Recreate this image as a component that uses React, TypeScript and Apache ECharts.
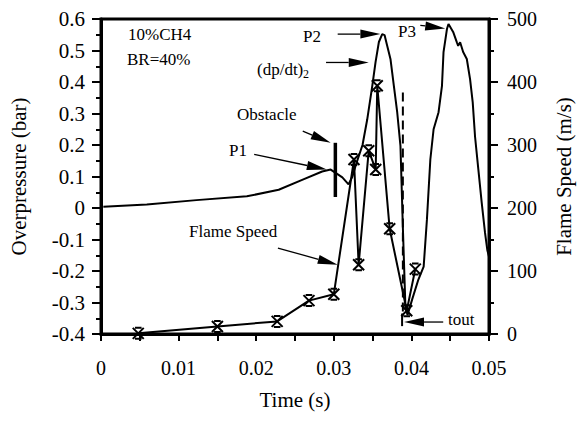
import React, { useEffect, useRef } from 'react';
import * as echarts from 'echarts';

// Overpressure trace (time s, overpressure bar)
const pressureTime = [
  0.0003, 0.0059, 0.0123, 0.0188, 0.0229, 0.026, 0.0285, 0.0296, 0.0311, 0.0319,
  0.0324, 0.03295, 0.0337, 0.0343, 0.03496, 0.03538, 0.03581, 0.03624, 0.03654, 0.03688,
  0.03731, 0.03774, 0.03817, 0.03859, 0.0389, 0.03923, 0.0395, 0.0401, 0.0409, 0.04158,
  0.042, 0.04244, 0.04286, 0.0435, 0.04394, 0.04414, 0.04458, 0.04478, 0.04538, 0.04586,
  0.04603, 0.04628, 0.04667, 0.04714, 0.04756, 0.0479, 0.0482, 0.04863, 0.04906, 0.04949,
  0.04978, 0.05,
];
const pressureValue = [
  0.004, 0.011, 0.025, 0.037, 0.058, 0.09, 0.116, 0.122, 0.097, 0.075,
  0.1, 0.145, 0.2, 0.28, 0.388, 0.463, 0.527, 0.552, 0.549, 0.515,
  0.472, 0.388, 0.304, 0.197, -0.062, -0.314, -0.34, -0.29, -0.227, -0.186,
  -0.037, 0.154, 0.25, 0.304, 0.388, 0.495, 0.568, 0.584, 0.559, 0.526,
  0.515, 0.526, 0.495, 0.473, 0.409, 0.336, 0.227, 0.122, 0.017, -0.079,
  -0.133, -0.155,
];

// Flame speed (time s, m/s)
const speedTime = [0.0048, 0.015, 0.0227, 0.0268, 0.03, 0.0326, 0.0332, 0.0345, 0.0354, 0.0356, 0.0372, 0.0394, 0.0405];
const speedValue = [1, 12, 20, 53, 63, 277, 110, 291, 261, 394, 167, 37, 103];

// Axis ranges / ticks
const timeRange = [0, 0.05];
const pressureRange = [-0.4, 0.6];
const speedRange = [0, 500];

// Annotation anchors in data coordinates [time, overpressure]
const obstacleTime = 0.0302;
const obstacleRange = [0.207, 0.035];
const toutTime = 0.0389;
const dashedRange = [0.367, -0.33];
const toutTickRange = [-0.335, -0.375];
const arrows: { from: number[]; to: number[] }[] = [
  { from: [0.01974, 0.17], to: [0.0291, 0.122] }, // P1
  { from: [0.026, 0.244], to: [0.0296, 0.207] }, // Obstacle
  { from: [0.0305, 0.552], to: [0.036, 0.552] }, // P2
  { from: [0.029, 0.462], to: [0.0345, 0.462] }, // (dp/dt)2
  { from: [0.0228, -0.127], to: [0.0305, -0.18] }, // Flame Speed
  { from: [0.04115, 0.58], to: [0.04436, 0.57] }, // P3
  { from: [0.0441, -0.362], to: [0.03905, -0.362] }, // tout
];

const FONT = '"Liberation Serif", "Times New Roman", serif';
const markerPath = 'path://M2,0L8,0M2,10L8,10M0,0L10,10M10,0L0,10';

export default function App() {
  const ref = useRef<HTMLDivElement>(null);
  useEffect(() => {
    if (!ref.current) return;
    const chart = echarts.init(ref.current, undefined, { renderer: 'svg' });
    const pressureData = pressureTime.map((t, i) => [t, pressureValue[i]]);
    const speedData = speedTime.map((t, i) => [t, speedValue[i]]);
    const axisLine = { show: true, onZero: false, lineStyle: { color: '#000', width: 3 } };
    const labelStyle = { color: '#000', fontFamily: FONT, fontSize: 20 };
    chart.setOption({
      animation: false,
      backgroundColor: '#fff',
      grid: { left: 99, right: 93, top: 19, bottom: 88, show: true, borderColor: '#000', borderWidth: 3 },
      xAxis: {
        type: 'value',
        min: timeRange[0],
        max: timeRange[1],
        interval: 0.01,
        name: 'Time (s)',
        nameLocation: 'middle',
        nameGap: 55,
        nameTextStyle: { color: '#000', fontFamily: FONT, fontSize: 21 },
        axisLine,
        axisTick: { show: true, inside: false, length: 7, lineStyle: { color: '#000', width: 2 } },
        minorTick: { show: true, splitNumber: 2, length: 7, lineStyle: { color: '#000', width: 2 } },
        axisLabel: { ...labelStyle, margin: 24, formatter: (v: number) => (v === 0 ? '0' : String(+v.toFixed(2))) },
        splitLine: { show: false },
      },
      yAxis: [
        {
          type: 'value',
          min: pressureRange[0],
          max: pressureRange[1],
          interval: 0.1,
          name: 'Overpressure (bar)',
          nameLocation: 'middle',
          nameGap: 72,
          nameRotate: 90,
          nameTextStyle: { color: '#000', fontFamily: FONT, fontSize: 21 },
          axisLine,
          axisTick: { show: true, length: 9, lineStyle: { color: '#000', width: 2 } },
          minorTick: { show: true, splitNumber: 2, length: 5, lineStyle: { color: '#000', width: 2 } },
          axisLabel: { ...labelStyle, fontSize: 21, margin: 16, formatter: (v: number) => (Math.abs(v) < 1e-9 ? '0' : String(+v.toFixed(1))) },
          splitLine: { show: false },
        },
        {
          type: 'value',
          position: 'right',
          min: speedRange[0],
          max: speedRange[1],
          interval: 100,
          name: 'Flame Speed (m/s)',
          nameLocation: 'middle',
          nameGap: 64,
          nameRotate: 90,
          nameTextStyle: { color: '#000', fontFamily: FONT, fontSize: 21 },
          axisLine,
          axisTick: { show: true, length: 9, lineStyle: { color: '#000', width: 2 } },
          minorTick: { show: true, splitNumber: 2, length: 5, lineStyle: { color: '#000', width: 2 } },
          axisLabel: { ...labelStyle, margin: 18 },
          splitLine: { show: false },
        },
      ],
      series: [
        {
          type: 'line',
          name: 'Overpressure',
          yAxisIndex: 0,
          data: pressureData,
          showSymbol: false,
          symbol: 'none',
          lineStyle: { color: '#000', width: 2 },
        },
        {
          type: 'line',
          name: 'Flame Speed',
          yAxisIndex: 1,
          data: speedData,
          symbol: markerPath,
          symbolSize: 11,
          itemStyle: { color: 'none', borderColor: '#000', borderWidth: 2 },
          lineStyle: { color: '#000', width: 2 },
        },
      ],
    });

    const px = (p: number[]) => chart.convertToPixel({ gridIndex: 0 }, p) as number[];
    const graphics: any[] = [];
    const L = 20;
    const HW = 4.5;
    arrows.forEach((a) => {
      const f = px(a.from);
      const t = px(a.to);
      const dx = t[0] - f[0];
      const dy = t[1] - f[1];
      const len = Math.hypot(dx, dy);
      const ux = dx / len;
      const uy = dy / len;
      const bx = t[0] - ux * L;
      const by = t[1] - uy * L;
      const nx = -uy;
      const ny = ux;
      graphics.push({
        type: 'line',
        shape: { x1: f[0], y1: f[1], x2: bx, y2: by },
        style: { stroke: '#000', lineWidth: 1.3 },
      });
      graphics.push({
        type: 'polygon',
        shape: { points: [t, [bx + nx * HW, by + ny * HW], [bx - nx * HW, by - ny * HW]] },
        style: { fill: '#000' },
      });
    });
    const o1 = px([obstacleTime, obstacleRange[0]]);
    const o2 = px([obstacleTime, obstacleRange[1]]);
    graphics.push({ type: 'line', shape: { x1: o1[0], y1: o1[1], x2: o2[0], y2: o2[1] }, style: { stroke: '#000', lineWidth: 3.5 } });
    const d1 = px([toutTime, dashedRange[0]]);
    const d2 = px([toutTime, dashedRange[1]]);
    graphics.push({ type: 'line', shape: { x1: d1[0], y1: d1[1], x2: d2[0], y2: d2[1] }, style: { stroke: '#000', lineWidth: 2, lineDash: [9, 5] } });
    const k1 = px([toutTime - 0.0001, toutTickRange[0]]);
    const k2 = px([toutTime - 0.0001, toutTickRange[1]]);
    graphics.push({ type: 'line', shape: { x1: k1[0], y1: k1[1], x2: k2[0], y2: k2[1] }, style: { stroke: '#000', lineWidth: 2 } });

    const txt = (text: string, x: number, y: number, size = 17) => ({
      type: 'text',
      x,
      y,
      style: { text, fill: '#000', font: `${size}px ${FONT}`, verticalAlign: 'middle' },
    });
    graphics.push(txt('10%CH4', 128, 34));
    graphics.push(txt('BR=40%', 127, 59));
    graphics.push(txt('P2', 303, 36));
    graphics.push(txt('P3', 398, 31));
    graphics.push(txt('(dp/dt)', 257, 69));
    graphics.push(txt('2', 303, 74, 12));
    graphics.push(txt('Obstacle', 237, 114));
    graphics.push(txt('P1', 229, 150));
    graphics.push(txt('Flame Speed', 189, 231));
    graphics.push(txt('tout', 448, 319));

    chart.setOption({ graphic: graphics });
    return () => chart.dispose();
  }, []);
  return <div ref={ref} style={{ position: 'fixed', left: 0, top: 0, width: 582, height: 422 }} />;
}
